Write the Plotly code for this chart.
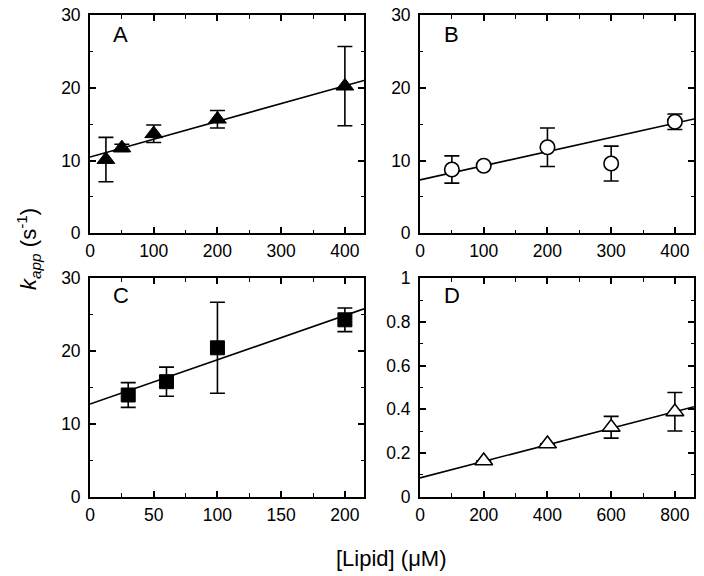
import plotly.graph_objects as go

# ---- data ----
a_x = [25, 50, 100, 200, 400]
a_y = [10.15, 11.75, 13.7, 15.7, 20.25]
a_err = [3.05, 0.5, 1.2, 1.2, 5.45]
a_fit = (10.5, 0.0245)   # intercept, slope

b_x = [50, 100, 200, 300, 400]
b_y = [8.78, 9.3, 11.85, 9.6, 15.35]
b_err = [1.88, 0, 2.65, 2.4, 1.06]
b_fit = (7.35, 0.0195)

c_x = [30, 60, 100, 200]
c_y = [13.97, 15.8, 20.45, 24.3]
c_err = [1.7, 2.0, 6.25, 1.62]
c_fit = (12.73, 0.0608)

d_x = [200, 400, 600, 800]
d_y = [0.164, 0.242, 0.318, 0.389]
d_err = [0, 0, 0.05, 0.088]
d_fit = (0.086, 0.000379)

panel_labels = ["A", "B", "C", "D"]
x_ranges = [(0, 430), (0, 430), (0, 215), (0, 860)]
y_ranges = [(0, 30), (0, 30), (0, 30), (0, 1)]
x_dticks = [100, 100, 50, 200]
x_minor = [50, 50, 25, 100]
y_dticks = [10, 10, 10, 0.2]
y_minor = [5, 5, 5, 0.1]

W, H = 704, 576
FONT = "Liberation Sans, Arial, Helvetica, sans-serif"


def px_x(v):
    return v / W


def px_y(v):
    return 1 - v / H


fig = go.Figure()

# panel geometry (window pixels)
x_dom = [(90, 364), (420, 694), (90, 364), (420, 694)]
y_dom = [(15.3, 233.3), (15.3, 233.3), (278.3, 496.7), (278.3, 496.7)]

datasets = [
    (a_x, a_y, a_err, a_fit, dict(symbol="triangle-up", size=15.5, color="black",
                                  line=dict(color="black", width=1))),
    (b_x, b_y, b_err, b_fit, dict(symbol="circle", size=14.5, color="white",
                                  line=dict(color="black", width=1.6))),
    (c_x, c_y, c_err, c_fit, dict(symbol="square", size=14, color="black",
                                  line=dict(color="black", width=1))),
    (d_x, d_y, d_err, d_fit, dict(symbol="triangle-up", size=15.5, color="white",
                                  line=dict(color="black", width=1.6))),
]

layout_axes = {}
for i, (xs, ys, errs, fit, mk) in enumerate(datasets):
    n = i + 1
    xa = "x" if n == 1 else f"x{n}"
    ya = "y" if n == 1 else f"y{n}"
    x0, x1 = x_ranges[i]
    b0, b1 = fit
    fig.add_trace(go.Scatter(x=[x0, x1], y=[b0 + b1 * x0, b0 + b1 * x1], mode="lines",
                             line=dict(color="black", width=1.6), xaxis=xa, yaxis=ya,
                             showlegend=False, hoverinfo="skip", cliponaxis=True))
    fig.add_trace(go.Scatter(x=xs, y=ys, mode="markers", marker=mk,
                             error_y=dict(type="data", array=errs, visible=True,
                                          color="black", thickness=1.6, width=7.5),
                             xaxis=xa, yaxis=ya, showlegend=False))
    common = dict(showline=True, linecolor="black", linewidth=1.8, mirror="ticks",
                  ticks="inside", ticklen=6, tickwidth=1.5, tickcolor="black",
                  showgrid=False, zeroline=False, automargin=False,
                  ticklabeloverflow="allow",
                  tickfont=dict(family=FONT, size=17.5, color="black"))
    xd = (px_x(x_dom[i][0]), px_x(x_dom[i][1]))
    yd = (px_y(y_dom[i][1]), px_y(y_dom[i][0]))
    layout_axes["xaxis" if n == 1 else f"xaxis{n}"] = dict(
        common, domain=list(xd), range=list(x_ranges[i]), dtick=x_dticks[i], tick0=0,
        anchor=ya, ticklabelstandoff=1,
        minor=dict(ticks="inside", ticklen=3.5, tickwidth=1.3, tickcolor="black",
                   dtick=x_minor[i], tick0=0, showgrid=False))
    layout_axes["yaxis" if n == 1 else f"yaxis{n}"] = dict(
        common, domain=list(yd), range=list(y_ranges[i]), dtick=y_dticks[i], tick0=0,
        anchor=xa, ticklabelstandoff=4,
        minor=dict(ticks="inside", ticklen=3.5, tickwidth=1.3, tickcolor="black",
                   dtick=y_minor[i], tick0=0, showgrid=False))

fig.update_layout(**layout_axes)

label_pos = [(120.5, 34), (451.5, 34), (120.5, 295.5), (451.5, 295.5)]
annotations = []
for lab, (px, py) in zip(panel_labels, label_pos):
    annotations.append(dict(text=lab, x=px_x(px), y=px_y(py), xref="paper", yref="paper",
                            showarrow=False, xanchor="center", yanchor="middle",
                            font=dict(family=FONT, size=22, color="black")))
annotations.append(dict(text="[Lipid] (\u03bcM)", x=px_x(391), y=px_y(558),
                        xref="paper", yref="paper", showarrow=False,
                        xanchor="center", yanchor="middle",
                        font=dict(family=FONT, size=22, color="black")))
annotations.append(dict(text="<i>k</i><sub><i>app</i></sub> (s<sup>-1</sup>)",
                        x=px_x(28), y=px_y(249), xref="paper", yref="paper",
                        showarrow=False, textangle=-90, xanchor="center", yanchor="middle",
                        font=dict(family=FONT, size=22, color="black")))

fig.update_layout(width=W, height=H, margin=dict(l=0, r=0, t=0, b=0, autoexpand=False),
                  paper_bgcolor="white", plot_bgcolor="white",
                  annotations=annotations, showlegend=False)

fig.write_html("out.html", config={"displayModeBar": False},
               post_script="document.body.style.margin='0';document.body.style.overflow='hidden';")
